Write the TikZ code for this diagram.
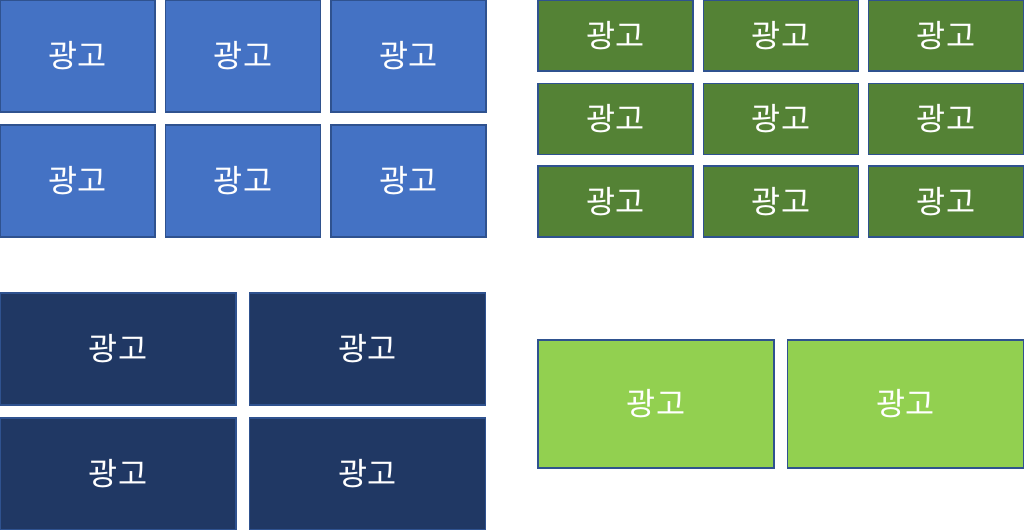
\documentclass[tikz,border=0pt]{standalone}
\usepackage{fontspec}
\setmainfont{Noto Sans CJK KR}
\usetikzlibrary{math}
\definecolor{adblue}{RGB}{68,114,196}
\definecolor{adgreen}{RGB}{84,130,53}
\definecolor{adnavy}{RGB}{32,56,100}
\definecolor{adlime}{RGB}{146,208,80}
\definecolor{adedge}{RGB}{47,82,143}

\begin{document}
\begin{tikzpicture}[x=0.02cm, y=-0.02cm,
  ad/.style={draw=adedge, line width=0.8pt, text=white, font=\fontsize{18}{20}\selectfont, inner sep=0pt}]
\tikzmath{
\wsmall=3.1;
\wbig=4.72;
}
\useasboundingbox (0,0) rectangle (1024,530);

% top left, 3 x 2
\foreach \x [count=\i] in {77.5,243,408.5}
  \foreach \y [count=\j] in {56,181}
    \node[ad, fill=adblue, minimum width=\wsmall cm, minimum height=2.24cm] (blue\i\j) at (\x,\y) {광고};

% top right, 3 x 3
\foreach \x [count=\i] in {615.5,781,946}
  \foreach \y [count=\j] in {35.5,119,201.5}
    \node[ad, fill=adgreen, minimum width=\wsmall cm, minimum height=1.42cm] (green\i\j) at (\x,\y) {광고};

% bottom left, 2 x 2
\foreach \x [count=\i] in {118,367.5}
  \foreach \y [count=\j] in {349,474}
    \node[ad, fill=adnavy, minimum width=\wbig cm, minimum height=2.24cm] (navy\i\j) at (\x,\y) {광고};

% bottom right, 2 x 1
\foreach \x [count=\i] in {656,905.5}
  \node[ad, fill=adlime, minimum width=\wbig cm, minimum height=2.56cm] (lime\i) at (\x,404) {광고};
\end{tikzpicture}
\end{document}
